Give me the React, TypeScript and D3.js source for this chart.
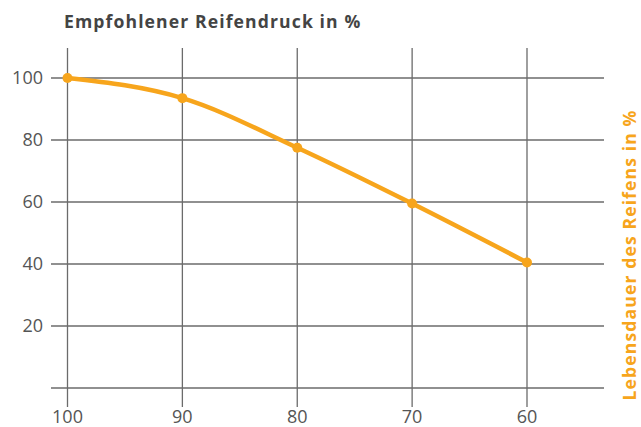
import { useEffect, useRef } from 'react'
import * as d3 from 'd3'

// Recommended tyre pressure (%) vs tyre lifetime (%)
const PRESSURE = [100, 90, 80, 70, 60]
const LIFETIME = [100, 93.5, 77.5, 59.5, 40.5]
const Y_TICKS = [20, 40, 60, 80, 100]
const Y_GRID = [0, 20, 40, 60, 80, 100]

const TITLE = 'Empfohlener Reifendruck in %'
const Y_LABEL = 'Lebensdauer des Reifens in %'

const ORANGE = '#F7A51C'
const GRID = '#6b6b6b'
const TEXT = '#555'

const App = () => {
  const svgRef = useRef<SVGSVGElement>(null)

  useEffect(() => {
    if (!svgRef.current) return
    const svg = d3.select(svgRef.current)
    svg.selectAll('*').remove()

    const x = d3.scaleLinear().domain([100, 60]).range([67.5, 527])
    const y = d3.scaleLinear().domain([0, 100]).range([388, 78])

    const font = "'Open Sans', sans-serif"

    // horizontal grid
    svg.append('g')
      .selectAll('line')
      .data(Y_GRID)
      .enter()
      .append('line')
      .attr('x1', 51)
      .attr('x2', 604)
      .attr('y1', d => y(d))
      .attr('y2', d => y(d))
      .style('stroke', GRID)
      .style('stroke-width', '1.3px')

    // vertical grid
    svg.append('g')
      .selectAll('line')
      .data(PRESSURE)
      .enter()
      .append('line')
      .attr('x1', d => x(d))
      .attr('x2', d => x(d))
      .attr('y1', 48)
      .attr('y2', 407)
      .style('stroke', GRID)
      .style('stroke-width', '1.3px')

    // y tick labels
    svg.append('g')
      .selectAll('text')
      .data(Y_TICKS)
      .enter()
      .append('text')
      .attr('x', 43)
      .attr('y', d => y(d))
      .attr('dy', '0.36em')
      .attr('text-anchor', 'end')
      .style('font-family', font)
      .style('font-size', '18px')
      .style('fill', TEXT)
      .text(d => d)

    // x tick labels
    svg.append('g')
      .selectAll('text')
      .data(PRESSURE)
      .enter()
      .append('text')
      .attr('x', d => x(d))
      .attr('y', 423)
      .attr('text-anchor', 'middle')
      .style('font-family', font)
      .style('font-size', '18px')
      .style('fill', TEXT)
      .text(d => d)

    // title
    svg.append('text')
      .attr('x', 64)
      .attr('y', 28)
      .style('font-family', font)
      .style('font-size', '17.6px')
      .style('font-weight', 'bold')
      .style('letter-spacing', '1.1px')
      .style('fill', '#444')
      .text(TITLE)

    // right axis title
    svg.append('text')
      .attr('transform', 'translate(636, 255) rotate(-90)')
      .attr('text-anchor', 'middle')
      .style('font-family', font)
      .style('font-size', '17.6px')
      .style('font-weight', 'bold')
      .style('letter-spacing', '1.1px')
      .style('fill', ORANGE)
      .text(Y_LABEL)

    const data = PRESSURE.map((p, i) => ({ p, v: LIFETIME[i] }))

    const line = d3.line<{ p: number, v: number }>()
      .x(d => x(d.p))
      .y(d => y(d.v))
      .curve(d3.curveMonotoneX)

    svg.append('path')
      .datum(data)
      .attr('d', line)
      .style('fill', 'none')
      .style('stroke', ORANGE)
      .style('stroke-width', '4.5px')

    svg.append('g')
      .selectAll('circle')
      .data(data)
      .enter()
      .append('circle')
      .attr('cx', d => x(d.p))
      .attr('cy', d => y(d.v))
      .attr('r', 5)
      .style('fill', ORANGE)
  }, [])

  return (
    <svg
      ref={svgRef}
      width={641}
      height={427}
      style={{ position: 'absolute', left: 0, top: 0, background: '#fff' }}
    />
  )
}

export default App
